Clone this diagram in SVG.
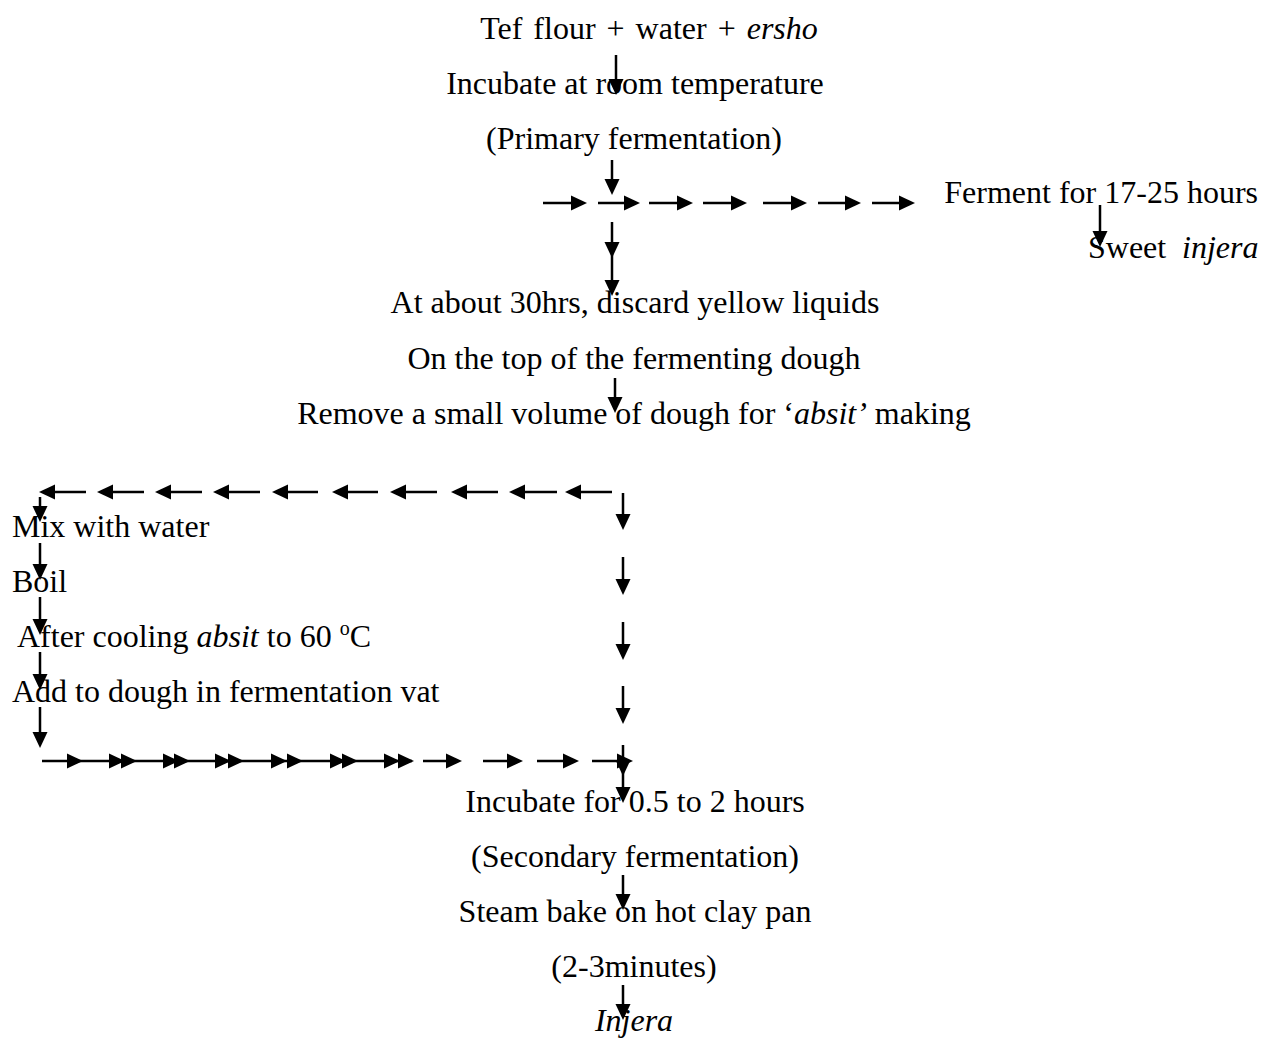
<svg xmlns="http://www.w3.org/2000/svg" width="1262" height="1038" viewBox="0 0 1262 1038">
<style>
text{font-family:"Liberation Serif","Times New Roman",serif;font-size:32px;fill:#000}
.c{text-anchor:middle}
.i{font-style:italic}
.ln{stroke:#000;stroke-width:2.5;fill:none}
</style>
<defs>
<path id="hr" d="M0,0 L-16,-7.5 L-16,7.5 Z" fill="#000"/>
<path id="hl" d="M0,0 L16,-7.5 L16,7.5 Z" fill="#000"/>
<path id="hd" d="M0,0 L-7.5,-16 L7.5,-16 Z" fill="#000"/>
</defs>
<rect width="1262" height="1038" fill="#fff"/>
<g id="nodes">
<g id="n1"><text class="c" x="649" y="39" word-spacing="3">Tef flour + water + <tspan class="i">ersho</tspan></text></g>
<g id="n2"><text class="c" x="635" y="94">Incubate at room temperature</text><text class="c" x="634" y="149">(Primary fermentation)</text></g>
<g id="n3"><text x="1258" y="203" text-anchor="end">Ferment for 17-25 hours</text></g>
<g id="n4"><text x="1088" y="258">Sweet</text><text class="i" x="1182" y="258">injera</text></g>
<g id="n5"><text class="c" x="635" y="313">At about 30hrs, discard yellow liquids</text><text class="c" x="634" y="369">On the top of the fermenting dough</text></g>
<g id="n6"><text class="c" x="634" y="424">Remove a small volume of dough for ‘<tspan class="i">absit’</tspan> making</text></g>
<g id="n7"><text x="12" y="537">Mix with water</text></g>
<g id="n8"><text x="12" y="592">Boil</text></g>
<g id="n9"><text x="17" y="647">After cooling <tspan class="i">absit</tspan> to 60 <tspan font-size="20" dy="-12">o</tspan><tspan dy="12">C</tspan></text></g>
<g id="n10"><text x="12" y="702">Add to dough in fermentation vat</text></g>
<g id="n11"><text class="c" x="635" y="812">Incubate for 0.5 to 2 hours</text><text class="c" x="635" y="867">(Secondary fermentation)</text></g>
<g id="n12"><text class="c" x="635" y="922">Steam bake on hot clay pan</text><text class="c" x="634" y="977">(2-3minutes)</text></g>
<g id="n13"><text class="c i" x="634" y="1031">Injera</text></g>
</g>
<g id="connectors">
<path class="ln" d="M616,55V90"/><use href="#hd" x="616" y="95"/>
<path class="ln" d="M612,160V190"/><use href="#hd" x="612" y="195"/>
<path class="ln" d="M612,222V290"/><use href="#hd" x="612" y="258"/><use href="#hd" x="612" y="296"/>
<path class="ln" d="M1100,205V242"/><use href="#hd" x="1100" y="247"/>
<path class="ln" d="M615,378V408"/><use href="#hd" x="615" y="413"/>
<path class="ln" d="M543,203H582M598,203H635M649,203H688M703,203H742M763,203H802M818,203H856M872,203H910"/>
<use href="#hr" x="587" y="203"/><use href="#hr" x="640" y="203"/><use href="#hr" x="693" y="203"/><use href="#hr" x="747" y="203"/><use href="#hr" x="807" y="203"/><use href="#hr" x="861" y="203"/><use href="#hr" x="915" y="203"/>
<path class="ln" d="M44,492H86M102,492H144M160,492H202M218,492H260M277,492H318M337,492H378M395,492H437M456,492H498M514,492H557M570,492H612"/>
<use href="#hl" x="39" y="492"/><use href="#hl" x="97" y="492"/><use href="#hl" x="155" y="492"/><use href="#hl" x="213" y="492"/><use href="#hl" x="272" y="492"/><use href="#hl" x="332" y="492"/><use href="#hl" x="390" y="492"/><use href="#hl" x="451" y="492"/><use href="#hl" x="509" y="492"/><use href="#hl" x="565" y="492"/>
<path class="ln" d="M623,493V525M623,557V590M623,622V655M623,686V719M623,745V798"/>
<use href="#hd" x="623" y="530"/><use href="#hd" x="623" y="595"/><use href="#hd" x="623" y="660"/><use href="#hd" x="623" y="724"/><use href="#hd" x="623" y="776"/><use href="#hd" x="623" y="803"/>
<path class="ln" d="M40,497V517M40,543V575M40,597V630M40,652V685M40,707V743"/>
<use href="#hd" x="40" y="522"/><use href="#hd" x="40" y="580"/><use href="#hd" x="40" y="635"/><use href="#hd" x="40" y="690"/><use href="#hd" x="40" y="748"/>
<path class="ln" d="M42,761H412M423,761H457M483,761H518M537,761H574M592,761H628"/>
<use href="#hr" x="83" y="761"/><use href="#hr" x="125" y="761"/><use href="#hr" x="137" y="761"/><use href="#hr" x="179" y="761"/><use href="#hr" x="190" y="761"/><use href="#hr" x="231" y="761"/><use href="#hr" x="244" y="761"/><use href="#hr" x="287" y="761"/><use href="#hr" x="303" y="761"/><use href="#hr" x="346" y="761"/><use href="#hr" x="358" y="761"/><use href="#hr" x="400" y="761"/><use href="#hr" x="414" y="761"/>
<use href="#hr" x="462" y="761"/><use href="#hr" x="523" y="761"/><use href="#hr" x="579" y="761"/><use href="#hr" x="633" y="761"/>
<path class="ln" d="M623,875V905M623,985V1015"/>
<use href="#hd" x="623" y="910"/><use href="#hd" x="623" y="1020"/>
</g>
</svg>
